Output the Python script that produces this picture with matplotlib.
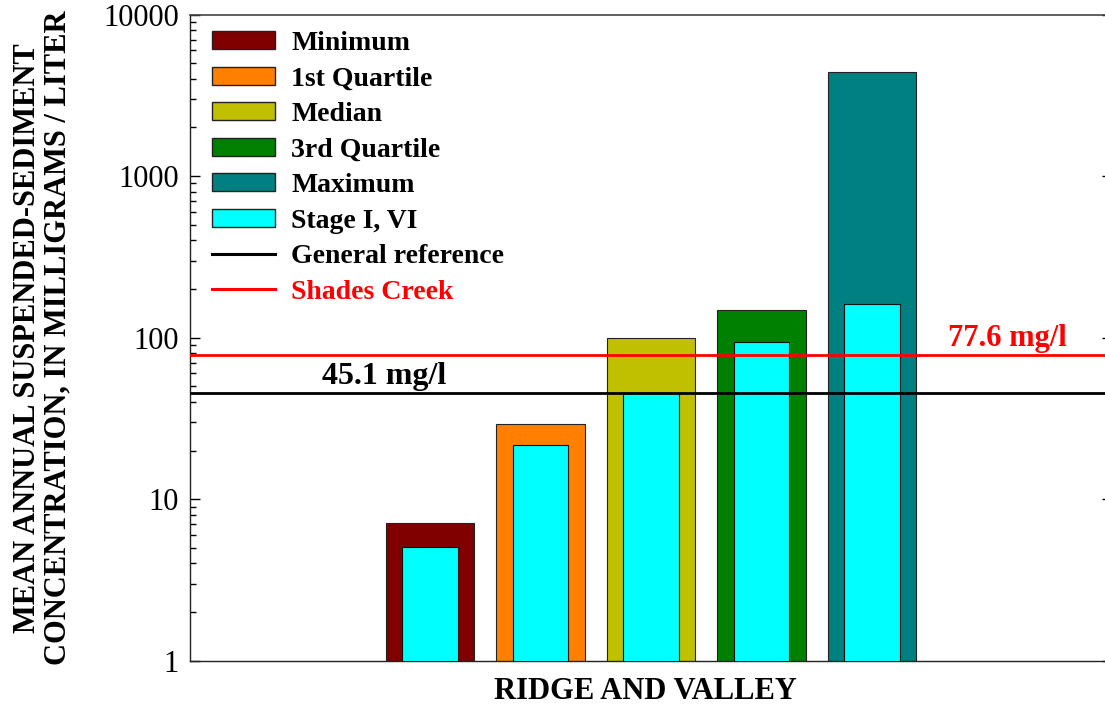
import matplotlib
matplotlib.use("Agg")
import matplotlib.pyplot as plt
from matplotlib.patches import Patch
from matplotlib.lines import Line2D
from matplotlib.ticker import LogLocator, NullFormatter, FixedLocator

# ----------------------------
# Data
# ----------------------------
categories = ["Minimum", "1st Quartile", "Median", "3rd Quartile", "Maximum"]
outer_values = [7.15, 29.3, 100.0, 149.0, 4400.0]
stage_values = [5.05, 21.5, 45.1, 93.5, 162.0]
outer_colors = ["#800000", "#ff8000", "#c0c000", "#008000", "#008080"]
stage_color = "#00ffff"

general_ref = 45.1
shades_creek = 77.6

region_label = "RIDGE AND VALLEY"
y_label = "MEAN ANNUAL SUSPENDED-SEDIMENT\nCONCENTRATION, IN MILLIGRAMS / LITER"
y_ticks = [1, 10, 100, 1000, 10000]
y_tick_labels = ["1", "10", "100", "1000", "10000"]

SERIF = ["Liberation Serif", "DejaVu Serif"]
plt.rcParams["font.family"] = SERIF

W, H = 1105, 706
fig = plt.figure(figsize=(W / 100, H / 100), dpi=100)

# axes extends a little past the right edge of the figure (cropped in the original)
left, right, top, bottom = 190, 1112, 14.5, 660.7
ax = fig.add_axes([left / W, 1 - bottom / H, (right - left) / W, (bottom - top) / H])

xs = list(range(len(categories)))

# outer bars (statistics) and inner bars (Stage I, VI)
ax.bar(xs, outer_values, width=0.8, color=outer_colors, edgecolor="#222222", linewidth=0.8, zorder=2)
ax.bar(xs, stage_values, width=0.5, color=stage_color, edgecolor="#111111", linewidth=0.8, zorder=3)

# reference lines
ax.axhline(general_ref, color="black", lw=2.0, zorder=4)
ax.axhline(shades_creek, color="red", lw=2.0, zorder=4)

ax.text(-0.41, general_ref * 1.04, f"{general_ref} mg/l", ha="center", va="bottom",
        fontsize=23, fontweight="bold", color="black", zorder=5)
ax.text(5.22, shades_creek * 1.04, f"{shades_creek} mg/l", ha="center", va="bottom",
        fontsize=22, fontweight="bold", color="red", zorder=5)

ax.set_yscale("log")
ax.set_ylim(1, 10000)
ax.set_xlim(-2.17, 6.17)

ax.yaxis.set_major_locator(FixedLocator(y_ticks))
ax.set_yticklabels(y_tick_labels)
ax.yaxis.set_minor_locator(LogLocator(base=10, subs=range(2, 10), numticks=20))
ax.yaxis.set_minor_formatter(NullFormatter())
ax.tick_params(axis="y", which="major", direction="in", length=7.2, width=1.0,
               labelsize=22, pad=8, right=True)
ax.tick_params(axis="y", which="minor", direction="in", length=4.3, width=1.0, right=False)
ax.set_xticks([])

for side in ["left", "bottom", "right"]:
    ax.spines[side].set_linewidth(1.0)
    ax.spines[side].set_color("#222222")
ax.spines["top"].set_linewidth(1.2)
ax.spines["top"].set_color("#444444")

ax.set_xlabel(region_label, fontsize=22, fontweight="bold", labelpad=12)
ax.xaxis.set_label_coords((645 - left) / (right - left), -0.025, transform=ax.transAxes)
ax.xaxis.label.set_va("top")

fig.text(43 / W, 1 - 338 / H, y_label, rotation=90, ha="center", va="center",
         fontsize=22, fontweight="bold", linespacing=1.05, multialignment="center")

# legend
handles = [Patch(facecolor=c, edgecolor="#222222", linewidth=1.0) for c in outer_colors]
handles.append(Patch(facecolor=stage_color, edgecolor="#222222", linewidth=1.0))
handles.append(Line2D([0], [0], color="black", lw=2.2))
handles.append(Line2D([0], [0], color="red", lw=2.2))
labels = categories + ["Stage I, VI", "General reference", "Shades Creek"]

leg = ax.legend(handles, labels, loc="upper left",
                bbox_to_anchor=((212 - left) / (right - left), 1 - (31 - top) / (bottom - top)),
                frameon=False, prop={"size": 20, "weight": "bold"},
                handlelength=2.25, handleheight=0.62, handletextpad=0.6,
                labelspacing=0.38, borderpad=0, borderaxespad=0)
leg.get_texts()[-1].set_color("red")

fig.savefig("out.png", dpi=100)
